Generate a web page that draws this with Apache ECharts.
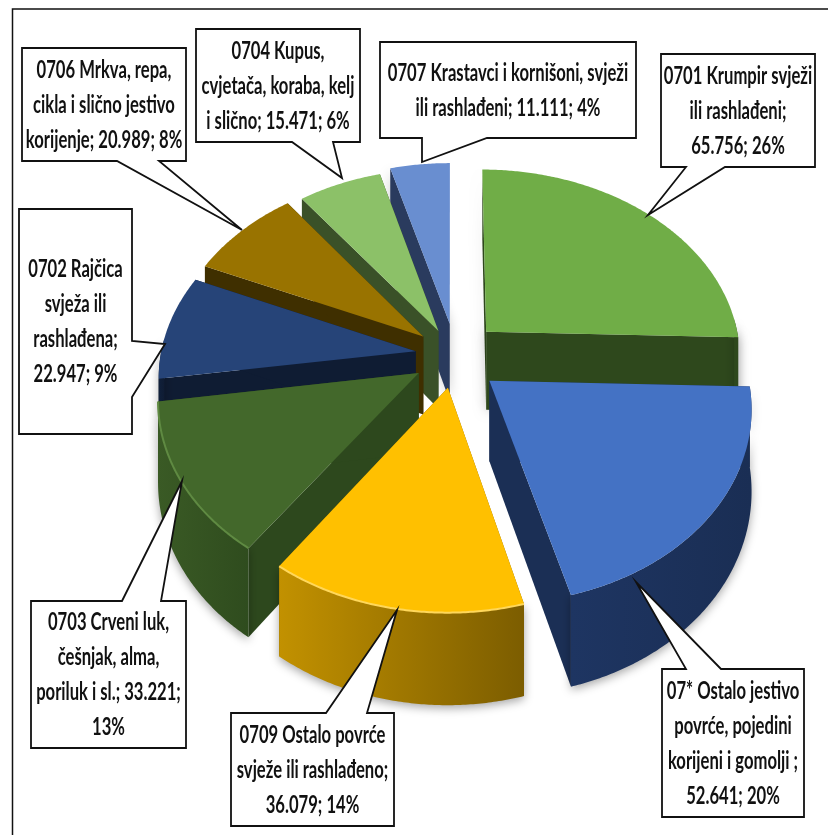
<!DOCTYPE html>
<html>

<head>
	<meta charset="UTF-8">
	<title></title>
	<script src="https://cdn.jsdelivr.net/npm/echarts@6/dist/echarts.min.js"></script>
	<style>
		html, body { margin: 0; padding: 0; background: #fff; }
		#main { width: 828px; height: 835px; }
	</style>
</head>

<body>
	<div id="main"></div>
	<script type="text/javascript">
		var categories = ['0701', '07*', '0709', '0703', '0702', '0706', '0704', '0707'];
		var values = [65.756, 52.641, 36.079, 33.221, 22.947, 20.989, 15.471, 11.111];
		var labelTexts = [
			'0701 Krumpir svježi\nili rashlađeni;\n65.756; 26%',
			'07* Ostalo jestivo\npovrće, pojedini\nkorijeni i gomolji ;\n52.641; 20%',
			'0709 Ostalo povrće\nsvježe ili rashlađeno;\n36.079; 14%',
			'0703 Crveni luk,\nčešnjak, alma,\nporiluk i sl.; 33.221;\n13%',
			'0702 Rajčica\nsvježa ili\nrashlađena;\n22.947; 9%',
			'0706 Mrkva, repa,\ncikla i slično jestivo\nkorijenje; 20.989; 8%',
			'0704 Kupus,\ncvjetača, koraba, kelj\ni slično; 15.471; 6%',
			'0707 Krastavci i kornišoni, svježi\nili rashlađeni; 11.111; 4%'
		];

		// slice styles, same order as categories
		var topColors = ['#70AD47', '#4472C4', '#FFC000', '#43682B', '#264478', '#997300', '#8CC168', '#698ED0'];
		var sideColors = ['#2E481C', '#1B2F55', '#7F6000', '#2D481D', '#0F1C33', '#3F2F00', '#3A5128', '#2A3B5E'];
		var outerColors = [
			['#2E481C', '#2E481C'], ['#1E3562', '#1A2E54'], ['#C29100', '#7C5D00'], ['#3A5A25', '#2F4C1E'],
			['#10203B', '#0F1C33'], ['#3F2F00', '#3F2F00'], ['#3A5128', '#3A5128'], ['#2A3B5E', '#2A3B5E']
		];
		var rimColors = [null, null, '#FFD75A', '#5F8A42', null, null, null, null];
		// how far each slice is pulled out of the centre, in radii
		var offsets = [
			[0.14, -0.125], [0.148, 0.135], [-0.012, 0.17], [-0.125, 0.095],
			[-0.139, -0.02], [-0.11, -0.1], [-0.05, -0.13], [-0.005, -0.17]
		];
		var drawOrder = [7, 6, 5, 4, 0, 3, 2, 1];

		// callout boxes: [left, top, right, bottom], pointer: base a, base b, tip
		var labelBoxes = [
			[661, 54, 815, 167],
			[662, 669, 804, 817],
			[231, 713, 394, 826],
			[31, 601, 186, 748],
			[19, 209, 132, 434],
			[22, 48, 186, 161],
			[196, 29, 360, 142],
			[380, 42, 636, 138]
		];
		var pointers = [
			[[725, 167], [686, 167], [648, 215]],
			[[721, 669], [686, 669], [636, 582]],
			[[367, 713], [326, 713], [397, 610]],
			[[161, 601], [122, 601], [182, 481]],
			[[132, 341], [132, 397], [165, 344]],
			[[159, 161], [117, 161], [242, 230]],
			[[333, 142], [292, 142], [342, 178]],
			[[487, 138], [422, 138], [422, 162]]
		];

		var cx = 451, cy = 355, rx = 255, ry = 188, persp = 0.125, depth = 79;
		var total = values.reduce(function(a, b) { return a + b; }, 0);

		var startAngles = [];
		var acc = 0;
		values.forEach(function(v) {
			startAngles.push(acc);
			acc += v / total * 360;
		});

		// plane point -> screen, y axis points to the viewer
		function project(x, y, h) {
			var s = 1 / (1 - persp * y);
			return [cx + rx * x * s, cy + ry * y * s + (h || 0) * depth * s];
		}

		function rad(a) {
			return a * Math.PI / 180;
		}

		function sliceGeom(i) {
			var a0 = startAngles[i];
			var a1 = a0 + values[i] / total * 360;
			var ox = offsets[i][0];
			var oy = offsets[i][1];
			return {
				a0: a0,
				a1: a1,
				at: function(a, r, h) {
					return project(ox + Math.sin(rad(a)) * r, oy - Math.cos(rad(a)) * r, h);
				}
			};
		}

		function arcPoints(g, from, to, h) {
			var pts = [];
			var n = Math.max(2, Math.ceil((to - from) * 2));
			for (var k = 0; k <= n; k++) {
				pts.push(g.at(from + (to - from) * k / n, 1, h));
			}
			return pts;
		}

		function renderSlice(params, api) {
			var i = api.value(0);
			var g = sliceGeom(i);
			var children = [];
			var shadow = { shadowBlur: 10, shadowColor: 'rgba(0,0,0,0.35)', shadowOffsetY: 3 };
			var softShadow = { shadowBlur: 12, shadowColor: 'rgba(0,0,0,0.22)' };

			// radial walls
			[g.a0, g.a1].forEach(function(a) {
				children.push({
					type: 'polygon',
					shape: { points: [g.at(a, 0, 0), g.at(a, 1, 0), g.at(a, 1, 1), g.at(a, 0, 1)] },
					style: Object.assign({ fill: sideColors[i] }, (i === 0 || i === 7) ? softShadow : {})
				});
			});

			// outer wall, only the part that faces the front
			var from = Math.max(g.a0, 86);
			var to = Math.min(g.a1, 274);
			if (to > from) {
				var top = arcPoints(g, from, to, 0);
				var bottom = arcPoints(g, from, to, 1).reverse();
				children.push({
					type: 'polygon',
					shape: { points: top.concat(bottom) },
					style: Object.assign({
						fill: new echarts.graphic.LinearGradient(0, 0, 1, 0, [
							{ offset: 0, color: outerColors[i][0] },
							{ offset: 1, color: outerColors[i][1] }
						])
					}, shadow)
				});
			}

			// top face
			children.push({
				type: 'polygon',
				shape: { points: [g.at(g.a0, 0, 0)].concat(arcPoints(g, g.a0, g.a1, 0)) },
				style: { fill: topColors[i] }
			});
			if (rimColors[i]) {
				children.push({
					type: 'polyline',
					shape: { points: arcPoints(g, g.a0, g.a1, 0) },
					style: { stroke: rimColors[i], lineWidth: 2, fill: null }
				});
			}

			return { type: 'group', children: children };
		}

		function renderLabel(params, api) {
			var i = api.value(0);
			var b = labelBoxes[i];
			var p = pointers[i];
			var pts;
			if (i === 4) {
				// this pointer leaves through the right side of the box
				pts = [[b[0], b[1]], [b[2], b[1]], p[0], p[2], p[1], [b[2], b[3]], [b[0], b[3]]];
			} else if (p[2][1] < b[1]) {
				pts = [[b[0], b[1]], p[1], p[2], p[0], [b[2], b[1]], [b[2], b[3]], [b[0], b[3]]];
			} else {
				pts = [[b[0], b[1]], [b[2], b[1]], [b[2], b[3]], p[0], p[2], p[1], [b[0], b[3]]];
			}
			return {
				type: 'group',
				children: [{
					type: 'polygon',
					shape: { points: pts },
					style: { fill: '#fff', stroke: '#111', lineWidth: 1.8 }
				}, {
					type: 'text',
					x: (b[0] + b[2]) / 2,
					y: (b[1] + b[3]) / 2,
					scaleX: 0.665,
					style: {
						x: 0,
						y: 0,
						text: labelTexts[i],
						align: 'center',
						verticalAlign: 'middle',
						fontFamily: 'Lato, "Open Sans"',
						fontWeight: 'bold',
						fontSize: 25,
						lineHeight: 35,
						fill: '#111'
					}
				}]
			};
		}

		var chart = echarts.init(document.getElementById('main'));
		chart.setOption({
			backgroundColor: '#fff',
			animation: false,
			graphic: [{
				type: 'rect',
				shape: { x: 12.5, y: 9, width: 830, height: 840 },
				style: { fill: 'none', stroke: '#111', lineWidth: 1.5 },
				silent: true
			}],
			series: [{
				type: 'custom',
				coordinateSystem: 'none',
				silent: true,
				z: 2,
				data: drawOrder.map(function(i) { return [i]; }),
				renderItem: renderSlice
			}, {
				type: 'custom',
				coordinateSystem: 'none',
				silent: true,
				z: 3,
				data: categories.map(function(c, i) { return [i]; }),
				renderItem: renderLabel
			}]
		});
	</script>
</body>

</html>
